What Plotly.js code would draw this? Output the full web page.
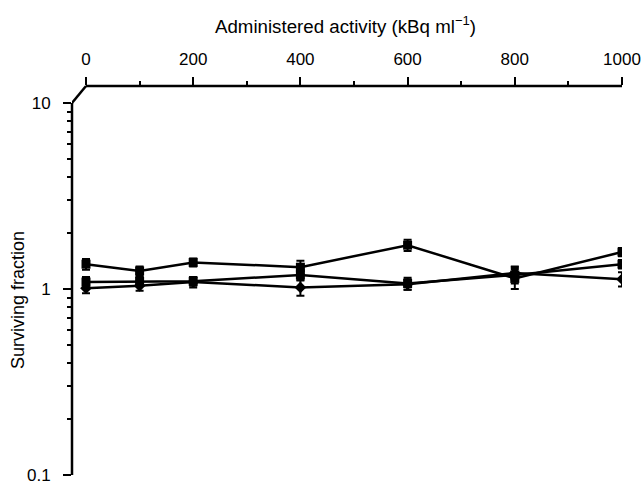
<!DOCTYPE html>
<html><head><meta charset="utf-8">
<script src="https://cdn.plot.ly/plotly-3.0.1.min.js"></script>
<style>html,body{margin:0;padding:0;background:#fff}#chart{width:644px;height:484px}</style>
</head><body><div id="chart"></div>
<script>
// Data
const activity = [0, 100, 200, 400, 600, 800, 1000];
const seriesA = [1.36, 1.25, 1.39, 1.31, 1.72, 1.14, 1.58];
const seriesAerr = [0.09, 0.07, 0.07, 0.11, 0.12, 0.14, 0.08];
const seriesB = [1.09, 1.10, 1.10, 1.19, 1.07, 1.19, 1.36];
const seriesBerr = [0.07, 0.06, 0.06, 0.08, 0.08, 0.12, 0.07];
const seriesC = [1.01, 1.04, 1.09, 1.02, 1.06, 1.22, 1.13];
const seriesCerr = [0.06, 0.06, 0.07, 0.1, 0.07, 0.1, 0.1];
const xTickVals = [0, 200, 400, 600, 800, 1000];
const xMinorVals = [100, 300, 500, 700, 900];
const yTickVals = [0.1, 1, 10];
const yTickText = ['0.1', '1', '10'];
const yMinorVals = [0.2,0.3,0.4,0.5,0.6,0.7,0.8,0.9,2,3,4,5,6,7,8,9];

function tr(y, err, sym) {
  return {
    x: activity, y: y, type: 'scatter', mode: 'lines+markers',
    line: {color: '#000', width: 2.5},
    marker: {color: '#000', symbol: sym, size: 9},
    error_y: {type: 'data', array: err, visible: true, color: '#000', thickness: 2, width: 4}
  };
}
const data = [tr(seriesA, seriesAerr, 'square'), tr(seriesB, seriesBerr, 'square'), tr(seriesC, seriesCerr, 'diamond')];

const fam = 'Liberation Sans, Arial, sans-serif';
const font = {family: fam, size: 17, color: '#000'};
const H = 389, W = 550;
const yTop = (475 - 103) / H;
const xMin = -14 / 0.536;
const layout = {
  width: 644, height: 484,
  margin: {l: 72, r: 22, t: 86, b: 9},
  paper_bgcolor: '#fff', plot_bgcolor: '#fff',
  showlegend: false,
  font: font,
  xaxis: {
    side: 'top', range: [xMin, 1000], showgrid: false, zeroline: false, showline: false,
    tickvals: xTickVals, ticks: 'outside', ticklen: 8, tickwidth: 2, tickcolor: '#000',
    ticklabelstandoff: 5,
    minor: {tickvals: xMinorVals, ticks: 'outside', ticklen: 4, tickwidth: 2, tickcolor: '#000'},
    tickfont: font
  },
  yaxis: {
    type: 'log', range: [-1, 1 + 17 / 186], showgrid: false, zeroline: false, showline: false,
    tickvals: yTickVals, ticktext: yTickText, ticks: 'outside', ticklen: 8, tickwidth: 2, tickcolor: '#000',
    ticklabeloverflow: 'allow', ticklabelstandoff: 9,
    minor: {tickvals: yMinorVals, ticks: 'outside', ticklen: 4, tickwidth: 2, tickcolor: '#000'},
    tickfont: font
  },
  shapes: [
    {type: 'line', xref: 'paper', yref: 'paper', x0: 0, x1: 0, y0: 0, y1: yTop, line: {color: '#000', width: 2.5}},
    {type: 'line', xref: 'x', yref: 'paper', x0: 0, x1: 1000, y0: 1, y1: 1, line: {color: '#000', width: 2.5}},
    {type: 'line', xref: 'x', yref: 'paper', x0: xMin, x1: 0, y0: yTop, y1: 1, line: {color: '#000', width: 2.5}}
  ],
  annotations: [
    {text: 'Administered activity (kBq ml<sup>−1</sup>)', xref: 'paper', yref: 'paper', x: (345 - 72) / W, y: 1 + (86 - 25) / H,
     showarrow: false, xanchor: 'center', yanchor: 'middle', font: {family: fam, size: 18.7, color: '#000'}},
    {text: 'Surviving fraction', xref: 'paper', yref: 'paper', x: (18 - 72) / W, y: (475 - 300) / H, textangle: -90,
     showarrow: false, xanchor: 'center', yanchor: 'middle', font: {family: fam, size: 18, color: '#000'}}
  ]
};
Plotly.newPlot('chart', data, layout, {displayModeBar: false, staticPlot: true});
</script></body></html>
